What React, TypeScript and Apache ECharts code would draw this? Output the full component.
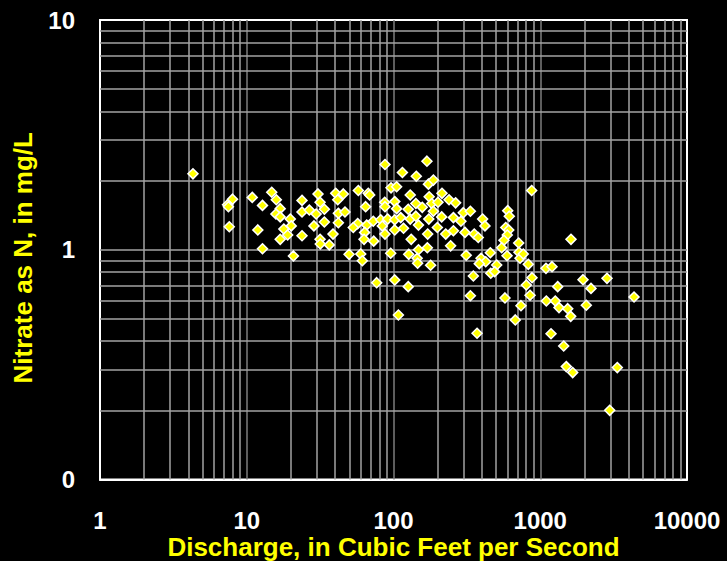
import React, { useEffect, useRef } from "react";
import * as echarts from "echarts";

// Discharge (cubic feet per second) of each sample
const discharge = [
  4.3, 8.0, 7.4, 7.5, 7.6, 10.9, 12.8, 11.9, 12.8, 14.8,
  15.9, 16.9, 15.8, 16.9, 17.9, 16.9, 19.0, 19.8, 20.1, 20.8,
  23.8, 23.8, 23.8, 26.7, 28.7, 29.7, 30.6, 31.6, 33.8, 33.8,
  31.6, 31.7, 36.5, 38.7, 40.4, 41.7, 42.1, 42.1, 45.5, 57.6,
  67.3, 68.8, 64.6, 87.1, 102, 130, 142, 175, 182, 214,
  239, 265, 201, 157, 126, 87.5, 105, 46.7, 57.0, 53.2,
  65.7, 72.8, 81.8, 83.9, 91.3, 102, 112, 130, 142, 148,
  117, 102, 87.5, 63.6, 63, 73.3, 174, 187, 213, 256,
  288, 299, 334, 199, 227, 256, 171, 132, 148, 170,
  127, 145, 146, 179, 245, 95.7, 49.8, 59.8, 61.3, 76.8,
  102, 126, 108, 307, 355, 378, 405, 420, 313, 395,
  457, 425, 384, 505, 460, 489, 350, 334, 371, 600,
  615, 582, 610, 596, 566, 546, 594, 713, 716, 728,
  829, 766, 1094, 1203, 1620, 879, 804, 852, 575, 1315,
  1100, 1266, 1342, 1539, 1613, 739, 676, 1184, 1956, 2217,
  2850, 4355, 2060, 1445, 1505, 1664, 3350, 2974, 874, 87.5,
  169, 115, 143, 173, 187, 96.2, 105,
];

// Nitrate as N (mg/L) of each sample
const nitrate = [
  2.14, 1.66, 1.57, 1.54, 1.26, 1.69, 1.56, 1.22, 1.01, 1.78,
  1.65, 1.51, 1.43, 1.39, 1.23, 1.11, 1.16, 1.36, 1.27, 0.94,
  1.64, 1.46, 1.15, 1.49, 1.27, 1.43, 1.75, 1.61, 1.50, 1.32,
  1.11, 1.06, 1.05, 1.17, 1.76, 1.65, 1.44, 1.31, 1.75, 1.81,
  1.76, 1.73, 1.54, 1.61, 1.62, 1.73, 1.59, 1.70, 1.59, 1.76,
  1.65, 1.60, 1.61, 1.53, 1.50, 1.54, 1.51, 1.46, 1.30, 1.25,
  1.28, 1.33, 1.35, 1.27, 1.36, 1.35, 1.38, 1.36, 1.40, 1.28,
  1.24, 1.22, 1.17, 1.19, 1.11, 1.09, 1.36, 1.47, 1.39, 1.38,
  1.33, 1.45, 1.47, 1.25, 1.17, 1.21, 1.17, 1.11, 1.00, 1.02,
  0.955, 0.918, 0.873, 0.856, 1.04, 0.965, 0.955, 0.958, 0.896, 0.719,
  0.739, 0.691, 0.520, 1.19, 1.17, 1.13, 1.36, 1.27, 0.946, 0.918,
  0.971, 0.887, 0.870, 0.858, 0.790, 0.803, 0.769, 0.631, 0.433, 1.48,
  1.40, 1.25, 1.22, 1.16, 1.10, 1.02, 0.942, 1.07, 0.975, 0.918,
  0.864, 0.958, 0.830, 0.844, 1.11, 0.756, 0.702, 0.634, 0.617, 0.691,
  0.598, 0.598, 0.560, 0.554, 0.513, 0.571, 0.495, 0.431, 0.741, 0.679,
  0.751, 0.623, 0.573, 0.381, 0.310, 0.292, 0.307, 0.200, 1.81, 2.35,
  2.43, 2.17, 2.09, 1.93, 2.01, 1.86, 1.88,
];

const xDecades = [1, 10, 100, 1000];
const yDecades = [0.1, 1];
const multipliers = [1, 2, 3, 4, 5, 6, 7, 8, 9];

const FONT = "'Liberation Sans', Arial, Helvetica, sans-serif";
const MINOR = "#a3a3a3";
const MAJOR = "#7d7d7d";

export default function App() {
  const ref = useRef<HTMLDivElement>(null);

  useEffect(() => {
    if (!ref.current) return;
    const chart = echarts.init(ref.current, null, { renderer: "svg" });

    const points = discharge.map((d, i) => [d, nitrate[i]]);

    const gridLines: any[] = [];
    xDecades.forEach((dec) =>
      multipliers.forEach((m) => {
        const v = dec * m;
        if (v <= 1) return;
        gridLines.push({
          xAxis: v,
          lineStyle: { color: m === 1 ? MAJOR : MINOR, width: 1.5, type: "solid" },
        });
      })
    );
    yDecades.forEach((dec) =>
      multipliers.forEach((m) => {
        const v = dec * m;
        if (v <= 0.1 + 1e-9) return;
        gridLines.push({
          yAxis: v,
          lineStyle: { color: MINOR, width: 1.5, type: "solid" },
        });
      })
    );

    chart.setOption({
      animation: false,
      backgroundColor: "#000000",
      grid: {
        left: 100,
        top: 20,
        width: 587,
        height: 459.5,
        containLabel: false,
        outerBoundsMode: "none",
        show: true,
        borderColor: "#ffffff",
        borderWidth: 2,
        backgroundColor: "transparent",
      },
      xAxis: {
        type: "log",
        logBase: 10,
        min: 1,
        max: 10000,
        name: "Discharge, in Cubic Feet per Second",
        nameLocation: "middle",
        nameGap: 54,
        nameMoveOverlap: false,
        nameTextStyle: { color: "#ffff00", fontSize: 26, fontWeight: "bold", fontFamily: FONT },
        axisLine: { show: true, lineStyle: { color: "#ffffff", width: 2 } },
        axisTick: { show: false },
        splitLine: { show: false },
        axisLabel: {
          color: "#ffffff",
          fontSize: 24,
          fontWeight: "bold",
          fontFamily: FONT,
          margin: 29,
          formatter: (v: number) => String(Math.round(v)),
        },
      },
      yAxis: {
        type: "log",
        logBase: 10,
        min: 0.1,
        max: 10,
        name: "Nitrate as N, in mg/L",
        nameLocation: "middle",
        nameGap: 64,
        nameRotate: 90,
        nameTextStyle: {
          color: "#ffff00",
          fontSize: 26,
          fontWeight: "bold",
          fontFamily: FONT,
          padding: [0, 16, 0, 0],
        },
        axisLine: { show: true, lineStyle: { color: "#ffffff", width: 2 } },
        axisTick: { show: false },
        splitLine: { show: false },
        axisLabel: {
          color: "#ffffff",
          fontSize: 24,
          fontWeight: "bold",
          fontFamily: FONT,
          margin: 25,
          formatter: (v: number) => String(Math.round(v)),
        },
      },
      series: [
        {
          type: "scatter",
          name: "grid",
          data: [],
          silent: true,
          z: 1,
          markLine: {
            silent: true,
            z: 1,
            animation: false,
            symbol: ["none", "none"],
            label: { show: false },
            emphasis: { disabled: true },
            data: gridLines,
          },
        },
        {
          type: "scatter",
          name: "Nitrate",
          data: points,
          symbol: "diamond",
          symbolSize: 10,
          z: 5,
          itemStyle: { color: "#ffff00", borderColor: "#ffffff", borderWidth: 1.5, opacity: 1 },
        },
      ],
    });

    return () => chart.dispose();
  }, []);

  return (
    <div
      ref={ref}
      style={{ position: "fixed", left: 0, top: 0, width: 727, height: 561, background: "#000" }}
    />
  );
}
